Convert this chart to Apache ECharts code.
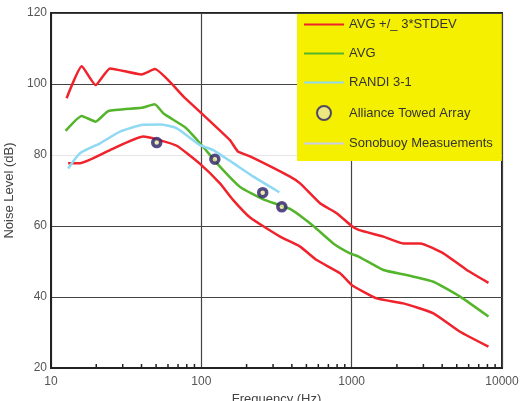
<!DOCTYPE html>
<html lang="en">
<head>
    <meta charset="UTF-8">
    <title>Noise Level vs Frequency</title>
    <script src="https://cdn.jsdelivr.net/npm/echarts@6/dist/echarts.min.js"></script>
    <style>
        html, body { margin: 0; padding: 0; background: #fff; }
        #main { width: 521px; height: 401px; }
    </style>
</head>
<body>
<div id="main"></div>
<script type="text/javascript">
    // [frequency Hz, noise dB]
    var avgPlus3 = [[12.7, 96], [16, 105], [19.8, 99.7], [24.7, 104.4], [40, 102.7], [49, 104.2], [78, 96], [100, 91.8],
        [155, 84.2], [175, 81], [211, 79.6], [389, 73.9], [454, 72], [616, 66.4], [795, 63.6], [1000, 60],
        [1112, 58.9], [1626, 57], [2208, 55.1], [2852, 55.1], [4074, 52.3], [5834, 47.6], [8128, 44]];
    var avgMinus3 = [[13, 77.7], [15.6, 77.7], [24.7, 81.4], [41, 85.2], [50.5, 84.4], [68.6, 82.6], [98, 77.5],
        [133, 72], [163, 67.3], [211, 62.4], [334, 57], [454, 54.2], [586, 50.4], [837, 46.7], [1000, 43.4],
        [1469, 39.6], [2208, 38.2], [3497, 35.4], [5263, 30.2], [8128, 26]];
    var avg = [[12.5, 86.8], [16, 91], [19.8, 89.4], [24.1, 92.4], [40, 93.3], [49, 94.3], [56, 91.7], [78, 87.8],
        [98, 83.3], [133, 76.7], [181, 71], [258, 67.5], [389, 64.8], [556, 60], [755, 55.1], [975, 52.3],
        [1112, 51.4], [1626, 47.6], [2326, 46.2], [3497, 44.3], [5263, 40.1], [8128, 34.5]];
    var randi = [[13, 76.2], [15.6, 80.5], [21.2, 83.3], [28.8, 86.6], [41, 88.5], [53, 88.6], [68.6, 87.5],
        [98, 82.8], [120, 81.4], [163, 77.7], [222, 73.9], [330, 69.5]];
    var alliance = [[50.5, 83.5], [123, 78.8], [256, 69.4], [343, 65.4]];
    var sonobuoy = [];
    var minorTicks = [20, 30, 40, 50, 60, 70, 80, 90, 200, 300, 400, 500, 600, 700, 800, 900,
        2000, 3000, 4000, 5000, 6000, 7000, 8000, 9000];
    var legendNames = ['AVG +/_ 3*STDEV', 'AVG', 'RANDI 3-1', 'Alliance Towed Array', 'Sonobuoy Measuements'];

    var myChart = echarts.init(document.getElementById('main'));
    var font = 'Liberation Sans, Arial, sans-serif';

    // line entries: hide the symbol so only the stroke shows in the legend
    var legendData = legendNames.map(function (n) {
        if (n === 'Alliance Towed Array') return { name: n };
        return { name: n, itemStyle: { opacity: 0 } };
    });

    var option = {
        backgroundColor: '#fff',
        animation: false,
        textStyle: { fontFamily: font },
        grid: {
            left: 51, top: 13, right: 19, bottom: 33,
            containLabel: false, outerBoundsMode: 'none',
            show: true, borderColor: '#222', borderWidth: 2
        },
        legend: {
            data: legendData,
            orient: 'vertical',
            left: 297, top: 14,
            backgroundColor: '#f5f000',
            padding: [4, 9, 11, 6],
            itemWidth: 40, itemHeight: 14, itemGap: 16,
            textStyle: { fontSize: 13, color: '#333', fontFamily: font }
        },
        xAxis: {
            type: 'log', logBase: 10, min: 10, max: 10000,
            name: 'Frequency (Hz)', nameLocation: 'middle', nameGap: 22,
            nameTextStyle: { fontSize: 13, color: '#444' },
            axisLine: { show: true, lineStyle: { color: '#222', width: 2 } },
            axisTick: { show: false },
            axisLabel: {
                color: '#555', fontSize: 12, margin: 8,
                formatter: function (v) { return String(Math.round(v)); }
            },
            splitLine: { show: true, lineStyle: { color: '#444', width: 1.2 } }
        },
        yAxis: {
            type: 'value', min: 20, max: 120, interval: 20,
            name: 'Noise Level (dB)', nameLocation: 'middle', nameGap: 29,
            nameTextStyle: { fontSize: 13, color: '#444' },
            axisLine: { show: true, lineStyle: { color: '#222', width: 2 } },
            axisTick: { show: false },
            axisLabel: { color: '#555', fontSize: 12, margin: 4 },
            splitLine: {
                show: true,
                lineStyle: { color: ['#444', '#444', '#444', '#e6e6e6', '#444', '#444'], width: 1.2 }
            }
        },
        series: [
            {
                name: 'AVG +/_ 3*STDEV', type: 'line', data: avgPlus3, symbol: 'none', smooth: 0.15,
                lineStyle: { color: '#f0232c', width: 2.5 }, itemStyle: { color: '#f0232c' }
            },
            {
                name: 'AVG +/_ 3*STDEV', type: 'line', data: avgMinus3, symbol: 'none', smooth: 0.15,
                lineStyle: { color: '#f0232c', width: 2.5 }, itemStyle: { color: '#f0232c' }
            },
            {
                name: 'AVG', type: 'line', data: avg, symbol: 'none', smooth: 0.15,
                lineStyle: { color: '#54b52c', width: 2.5 }, itemStyle: { color: '#54b52c' }
            },
            {
                name: 'RANDI 3-1', type: 'line', data: randi, symbol: 'none', smooth: 0.2,
                lineStyle: { color: '#8fd9f2', width: 2.5 }, itemStyle: { color: '#8fd9f2' }
            },
            {
                name: 'Sonobuoy Measuements', type: 'line', data: sonobuoy, symbol: 'none',
                lineStyle: { color: '#c9cdef', width: 2.5 }, itemStyle: { color: '#c9cdef' }
            },
            {
                name: 'Alliance Towed Array', type: 'scatter', data: alliance, symbol: 'circle', symbolSize: 8, z: 5,
                itemStyle: { color: '#e8e6a0', borderColor: '#2b1f6b', borderWidth: 3.5 }
            },
            {
                // minor log ticks along the bottom axis, pointing inward
                type: 'custom', silent: true, clip: false, z: 4,
                data: minorTicks.map(function (f) { return [f, 20]; }),
                encode: { x: 0, y: 1 },
                renderItem: function (params, api) {
                    var p = api.coord([api.value(0), 20]);
                    return {
                        type: 'line',
                        shape: { x1: p[0], y1: p[1], x2: p[0], y2: p[1] - 4 },
                        style: { stroke: '#222', lineWidth: 1.5 }
                    };
                }
            }
        ]
    };

    myChart.setOption(option);
</script>
</body>
</html>
